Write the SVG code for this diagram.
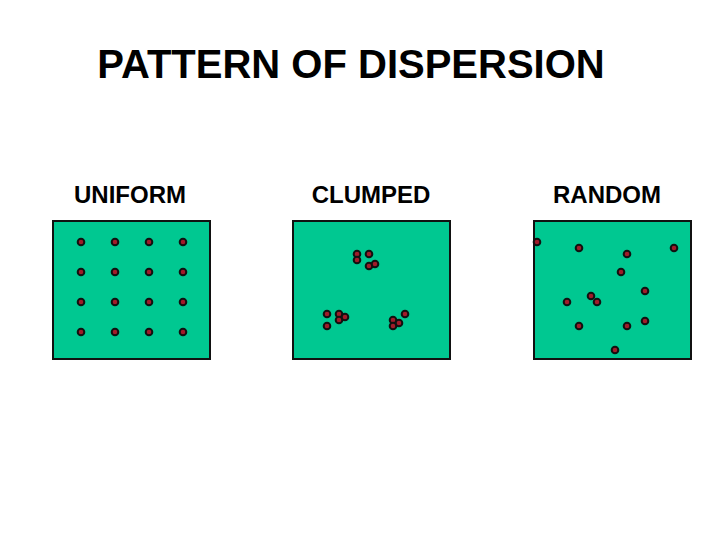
<svg xmlns="http://www.w3.org/2000/svg" width="720" height="539" viewBox="0 0 720 539">
<style>
.t{font-family:"Liberation Sans",Arial,sans-serif;font-weight:bold;fill:#000;text-anchor:middle}
.box{fill:#00c891;stroke:#111;stroke-width:2}
.d{fill:#a01c2a;stroke:#111;stroke-width:2}
</style>
<rect width="720" height="539" fill="#fff"/>
<text class="t" x="351" y="78" font-size="40">PATTERN OF DISPERSION</text>
<g id="uniform">
<text class="t" x="130" y="203" font-size="24">UNIFORM</text>
<rect class="box" x="53" y="221" width="157" height="138"/>
<g class="d">
<circle cx="81" cy="242" r="3.3"/><circle cx="115" cy="242" r="3.3"/><circle cx="149" cy="242" r="3.3"/><circle cx="183" cy="242" r="3.3"/>
<circle cx="81" cy="272" r="3.3"/><circle cx="115" cy="272" r="3.3"/><circle cx="149" cy="272" r="3.3"/><circle cx="183" cy="272" r="3.3"/>
<circle cx="81" cy="302" r="3.3"/><circle cx="115" cy="302" r="3.3"/><circle cx="149" cy="302" r="3.3"/><circle cx="183" cy="302" r="3.3"/>
<circle cx="81" cy="332" r="3.3"/><circle cx="115" cy="332" r="3.3"/><circle cx="149" cy="332" r="3.3"/><circle cx="183" cy="332" r="3.3"/>
</g>
</g>
<g id="clumped">
<text class="t" x="371" y="203" font-size="24">CLUMPED</text>
<rect class="box" x="293" y="221" width="157" height="138"/>
<g class="d">
<circle cx="357" cy="254" r="3.3"/><circle cx="357" cy="260" r="3.3"/><circle cx="369" cy="254" r="3.3"/><circle cx="369" cy="266" r="3.3"/><circle cx="375" cy="264" r="3.3"/>
<circle cx="327" cy="314" r="3.3"/><circle cx="327" cy="326" r="3.3"/><circle cx="339" cy="314" r="3.3"/><circle cx="339" cy="320" r="3.3"/><circle cx="345" cy="317" r="3.3"/>
<circle cx="405" cy="314" r="3.3"/><circle cx="393" cy="320" r="3.3"/><circle cx="393" cy="326" r="3.3"/><circle cx="399" cy="323" r="3.3"/>
</g>
</g>
<g id="random">
<text class="t" x="607" y="203" font-size="24">RANDOM</text>
<rect class="box" x="534" y="221" width="157" height="138"/>
<g class="d">
<circle cx="537" cy="242" r="3.3"/><circle cx="579" cy="248" r="3.3"/><circle cx="627" cy="254" r="3.3"/><circle cx="674" cy="248" r="3.3"/>
<circle cx="621" cy="272" r="3.3"/><circle cx="645" cy="291" r="3.3"/><circle cx="591" cy="296" r="3.3"/><circle cx="597" cy="302" r="3.3"/>
<circle cx="567" cy="302" r="3.3"/><circle cx="579" cy="326" r="3.3"/><circle cx="627" cy="326" r="3.3"/><circle cx="645" cy="321" r="3.3"/>
<circle cx="615" cy="350" r="3.3"/>
</g>
</g>
</svg>
